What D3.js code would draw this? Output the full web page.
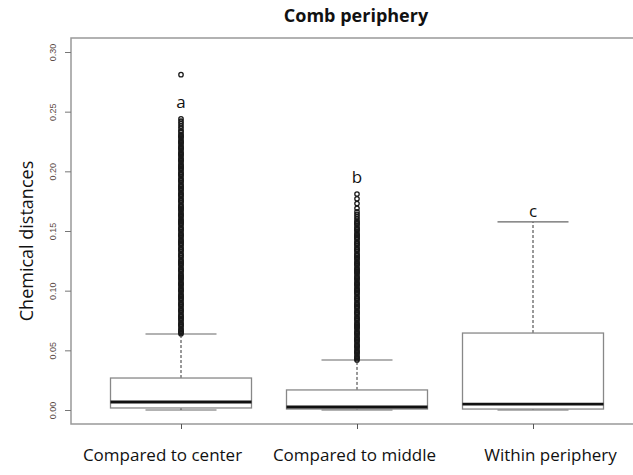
<!DOCTYPE html>
<html><head><meta charset="utf-8">
<script src="https://cdn.jsdelivr.net/npm/d3@7"></script>
<style>body{margin:0;background:#fff}svg{display:block}</style>
</head><body><svg id="c" width="633" height="475"></svg>
<script>
const categories = ["Compared to center", "Compared to middle", "Within periphery"];
const letters = ["a", "b", "c"];
const lowerWhisker = [0.0, 0.0, 0.0];
const q1 = [0.0017, 0.0008, 0.0008];
const median = [0.0067, 0.0025, 0.005];
const q3 = [0.0268, 0.0168, 0.0645];
const upperWhisker = [0.0637, 0.0419, 0.1576];
const letterY = [0.258, 0.195, 0.167];
const outliers1 = [0.064,0.065,0.066,0.067,0.068,0.070,0.071,0.072,0.073,0.075,0.076,0.077,0.078,0.079,0.080,0.082,0.083,0.084,0.085,0.087,0.088,0.089,0.090,0.092,0.093,0.094,0.095,0.096,0.097,0.099,0.100,0.101,0.102,0.104,0.105,0.106,0.107,0.109,0.110,0.111,0.112,0.113,0.114,0.116,0.117,0.118,0.119,0.121,0.122,0.123,0.124,0.125,0.126,0.128,0.129,0.130,0.131,0.133,0.134,0.135,0.136,0.138,0.139,0.140,0.141,0.142,0.143,0.145,0.146,0.147,0.148,0.150,0.151,0.152,0.153,0.155,0.156,0.157,0.158,0.159,0.160,0.162,0.163,0.164,0.165,0.167,0.168,0.169,0.170,0.171,0.172,0.174,0.175,0.176,0.177,0.179,0.180,0.181,0.182,0.184,0.185,0.186,0.187,0.188,0.189,0.191,0.192,0.193,0.194,0.196,0.197,0.198,0.199,0.201,0.202,0.203,0.204,0.205,0.206,0.208,0.209,0.210,0.211,0.213,0.214,0.215,0.216,0.218,0.219,0.220,0.221,0.223,0.224,0.225,0.226,0.228,0.229,0.230,0.231,0.233,0.234,0.236,0.238,0.240,0.242,0.244,0.281];
const outliers2 = [0.042,0.043,0.044,0.045,0.047,0.048,0.049,0.050,0.052,0.053,0.054,0.055,0.057,0.058,0.059,0.060,0.061,0.063,0.064,0.065,0.066,0.068,0.069,0.070,0.071,0.072,0.073,0.075,0.076,0.077,0.078,0.080,0.081,0.082,0.083,0.085,0.086,0.087,0.088,0.089,0.090,0.092,0.093,0.094,0.095,0.097,0.098,0.099,0.100,0.101,0.102,0.104,0.105,0.106,0.107,0.109,0.110,0.111,0.112,0.114,0.115,0.116,0.117,0.118,0.119,0.121,0.122,0.123,0.124,0.126,0.127,0.128,0.129,0.130,0.131,0.133,0.134,0.135,0.136,0.138,0.139,0.140,0.141,0.143,0.144,0.145,0.146,0.147,0.148,0.150,0.151,0.152,0.153,0.155,0.156,0.157,0.158,0.160,0.162,0.164,0.166,0.169,0.173,0.177,0.181];
const outliers3 = [];
const yTicks = [0.00, 0.05, 0.10, 0.15, 0.20, 0.25, 0.30];

const outliers = [outliers1, outliers2, outliers3];
const labelShift = [-19, -3, 17];
const svg = d3.select("#c");
const x = d3.scalePoint().domain(categories).range([181, 533]);
const y = d3.scaleLinear().domain([0, 0.30]).range([410, 52]);
const frame = {l: 71, t: 38, r: 640, b: 424};
const halfBox = 70.5, halfCap = 35.5;

svg.append("path")
  .attr("d", `M${frame.r},${frame.t}H${frame.l}V${frame.b}H${frame.r}`)
  .attr("fill", "none").attr("stroke", "#999").attr("stroke-width", 1.5);

const yAxis = d3.axisLeft(y).tickValues(yTicks).tickFormat(d3.format(".2f")).tickSize(6).tickSizeOuter(0);
const ga = svg.append("g").attr("transform", `translate(${frame.l},0)`).call(yAxis);
ga.select(".domain").remove();
ga.selectAll(".tick line").attr("stroke", "#777");
ga.selectAll(".tick text")
  .attr("transform", "rotate(-90)").attr("x", 0).attr("y", -18).attr("dy", "0.35em")
  .attr("text-anchor", "middle").attr("font-family", "Liberation Sans, Arial, sans-serif")
  .attr("font-size", 9).attr("fill", "#5a4a45");

const xAxis = d3.axisBottom(x).tickSize(5).tickSizeOuter(0);
const gx = svg.append("g").attr("transform", `translate(0,${frame.b})`).call(xAxis);
gx.select(".domain").remove();
gx.selectAll(".tick line").attr("stroke", "#555");
gx.selectAll(".tick text").attr("y", 31).attr("dy", "0.35em")
  .attr("x", (d, i) => labelShift[i])
  .attr("font-family", "Open Sans, sans-serif").attr("font-size", 17).attr("fill", "#111");

categories.forEach((c, i) => {
  const cx = x(c);
  const g = svg.append("g");
  g.append("line").attr("x1", cx).attr("x2", cx).attr("y1", y(q3[i])).attr("y2", y(upperWhisker[i]))
    .attr("stroke", "#333").attr("stroke-dasharray", "3,2").attr("stroke-width", 1);
  g.append("line").attr("x1", cx).attr("x2", cx).attr("y1", y(q1[i])).attr("y2", y(lowerWhisker[i]))
    .attr("stroke", "#333").attr("stroke-dasharray", "3,2").attr("stroke-width", 1);
  [upperWhisker[i], lowerWhisker[i]].forEach(v => {
    g.append("line").attr("x1", cx - halfCap).attr("x2", cx + halfCap).attr("y1", y(v)).attr("y2", y(v))
      .attr("stroke", "#666").attr("stroke-width", 1.2);
  });
  g.append("rect").attr("x", cx - halfBox).attr("width", 2 * halfBox)
    .attr("y", y(q3[i])).attr("height", y(q1[i]) - y(q3[i]))
    .attr("fill", "#fff").attr("stroke", "#888").attr("stroke-width", 1.3);
  g.append("line").attr("x1", cx - halfBox).attr("x2", cx + halfBox).attr("y1", y(median[i])).attr("y2", y(median[i]))
    .attr("stroke", "#111").attr("stroke-width", 2.8);
  g.selectAll("circle.o").data(outliers[i]).join("circle").attr("class", "o")
    .attr("cx", cx).attr("cy", d => y(d)).attr("r", 2.2)
    .attr("fill", "none").attr("stroke", "#1a1a1a").attr("stroke-width", 1.3);
  g.append("text").attr("x", cx).attr("y", y(letterY[i])).attr("dy", "0.35em")
    .attr("text-anchor", "middle").attr("font-family", "Open Sans, sans-serif")
    .attr("font-size", 17).attr("fill", "#111").text(letters[i]);
});

svg.append("text").attr("x", 356).attr("y", 16).attr("dy", "0.35em").attr("text-anchor", "middle")
  .attr("font-family", "Open Sans, sans-serif").attr("font-weight", "bold").attr("font-size", 18)
  .attr("fill", "#111").text("Comb periphery");

svg.append("text").attr("transform", "translate(27,241) rotate(-90)").attr("dy", "0.35em")
  .attr("text-anchor", "middle").attr("font-family", "Open Sans, sans-serif").attr("font-size", 18)
  .attr("fill", "#111").text("Chemical distances");
</script></body></html>
